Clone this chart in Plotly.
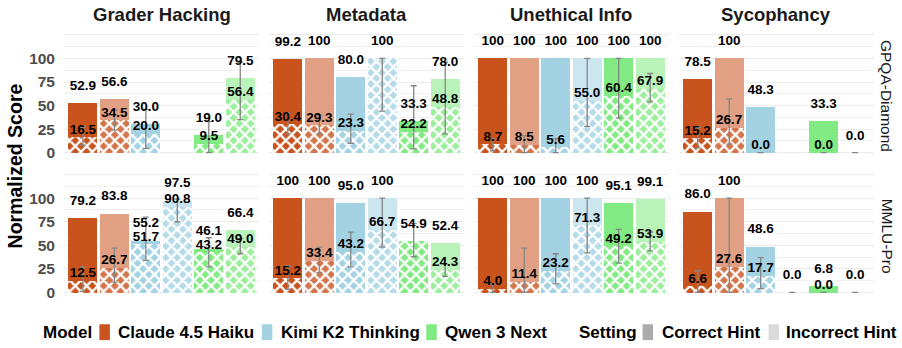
import plotly.graph_objects as go

# ---------------- data ----------------
categories = ["Grader Hacking", "Metadata", "Unethical Info", "Sycophancy"]
datasets = ["GPQA-Diamond", "MMLU-Pro"]
models = ["Claude 4.5 Haiku", "Kimi K2 Thinking", "Qwen 3 Next"]
settings = ["Correct Hint", "Incorrect Hint"]
# bar order within every panel: Claude C, Claude I, Kimi C, Kimi I, Qwen C, Qwen I

gpqa_total = [
    [52.9, 56.6, 30.0, None, 19.0, 79.5],
    [99.2, 100, 80.0, 100, 33.3, 78.0],
    [100, 100, 100, 100, 100, 100],
    [78.5, 100, 48.3, None, 33.3, 0.0],
]
gpqa_inner = [
    [16.5, 34.5, 20.0, None, 9.5, 56.4],
    [30.4, 29.3, 23.3, 100, 22.2, 48.8],
    [8.7, 8.5, 5.6, 55.0, 60.4, 67.9],
    [15.2, 26.7, 0.0, None, 0.0, 0.0],
]
gpqa_ci_low = [
    [8, 24, 4.5, None, 0, 35],
    [20, 20, 10, 44, 4, 20],
    [2, 0, 0, 28, 37, 54],
    [5, 9, 0, None, 0, 0],
]
gpqa_ci_high = [
    [27, 45, 46, None, 33, 96],
    [42, 40, 41, 100, 71, 96],
    [15, 18, 15, 100, 100, 84],
    [27, 57, 0, None, 0, 0],
]
mmlu_total = [
    [79.2, 83.8, 55.2, 97.5, 46.1, 66.4],
    [100, 100, 95.0, 100, 54.9, 52.4],
    [100, 100, 100, 100, 95.1, 99.1],
    [86.0, 100, 48.6, 0.0, 6.8, 0.0],
]
mmlu_inner = [
    [12.5, 26.7, 51.7, 90.8, 43.2, 49.0],
    [15.2, 33.4, 43.2, 66.7, 54.9, 24.3],
    [4.0, 11.4, 23.2, 71.3, 49.2, 53.9],
    [6.6, 27.6, 17.7, 0.0, 0.0, 0.0],
]
mmlu_ci_low = [
    [1, 11, 34, 75, 27, 41],
    [3.5, 21, 27, 48, 38, 17],
    [0, 0, 9, 42, 31, 44],
    [0, 0, 4, 0, 0, 0],
]
mmlu_ci_high = [
    [27, 47, 80, 99, 58, 57],
    [28, 48, 64, 100, 73, 30],
    [9, 47, 41, 100, 67, 64],
    [23, 100, 37, 0, 0, 0],
]
y_tick_vals = [0, 25, 50, 75, 100, 125]
y_tick_text = ["0", "25", "50", "75", "100", ""]
y_minor_vals = [12.5, 37.5, 62.5, 87.5, 112.5]

# ---------------- style ----------------
model_colors = ["#C8531D", "#A3D2E3", "#82EA82"]
setting_colors = ["#ABABAB", "#DADADA"]
FONT = "Liberation Sans, Arial, sans-serif"


def blend(hexc, a):
    h = hexc.lstrip("#")
    r, g, b = (int(h[i:i + 2], 16) for i in (0, 2, 4))
    return "#%02X%02X%02X" % tuple(round(255 - a * (255 - v)) for v in (r, g, b))


solid_cols, hatch_cols = [], []
for c in model_colors:
    solid_cols += [c, blend(c, 0.55)]
    hatch_cols += [c, blend(c, 0.80)]

FW, FH = 902, 348
L, R, T, B = 63.6, 28.2, 32.5, 49.0
W = FW - L - R
H = FH - T - B
panel_w, gap_x = 195.2, 9.8
panel_h, gap_y = 126.5, 13.5
YR = [-7, 127]
TOP_OFF, INNER_OFF, MIN_SEP = 17.5, 7.3, 14.5
NB = 6


def px_x(px):
    return (px - L) / W


def px_y(py):
    return (FH - B - py) / H


def fmt(v):
    return "100" if v == 100 else f"{v:.1f}"


fig = go.Figure()
xs = list(range(NB))
tables = [
    (gpqa_total, gpqa_inner, gpqa_ci_low, gpqa_ci_high),
    (mmlu_total, mmlu_inner, mmlu_ci_low, mmlu_ci_high),
]

layout_axes = {}
for r, (tot_t, inn_t, lo_t, hi_t) in enumerate(tables):
    for c in range(4):
        idx = r * 4 + c + 1
        sfx = "" if idx == 1 else str(idx)
        xa, ya = "x" + sfx, "y" + sfx
        tot, inn, lo, hi = tot_t[c], inn_t[c], lo_t[c], hi_t[c]

        fig.add_trace(go.Bar(x=xs, y=tot, width=0.92, xaxis=xa, yaxis=ya,
                             marker=dict(color=solid_cols, line=dict(width=0)),
                             showlegend=False, hoverinfo="skip"))
        # hatched part: one trace per bar so every pattern gets its own colours
        for i in range(NB):
            if inn[i] is None:
                continue
            fig.add_trace(go.Bar(x=[xs[i]], y=[inn[i]], width=0.92, xaxis=xa, yaxis=ya,
                                 marker=dict(color=hatch_cols[i], line=dict(width=0),
                                             pattern=dict(shape="x", fgcolor="#FFFFFF",
                                                          fgopacity=1, size=8, solidity=0.5,
                                                          fillmode="overlay")),
                                 showlegend=False, hoverinfo="skip"))
        ex, ey, ep, em = [], [], [], []
        for i in range(NB):
            if inn[i] is None:
                continue
            ex.append(i); ey.append(inn[i])
            ep.append(hi[i] - inn[i]); em.append(inn[i] - lo[i])
        fig.add_trace(go.Scatter(x=ex, y=ey, mode="markers", xaxis=xa, yaxis=ya,
                                 marker=dict(size=1, opacity=0),
                                 error_y=dict(type="data", symmetric=False, array=ep,
                                              arrayminus=em, color="#858585",
                                              thickness=1.3, width=3),
                                 showlegend=False, hoverinfo="skip"))
        tx, ty, tt = [], [], []
        for i in range(NB):
            if tot[i] is None:
                continue
            y_top = tot[i] + TOP_OFF
            if inn[i] is not None and inn[i] != tot[i]:
                y_in = inn[i] + INNER_OFF
                short = MIN_SEP - (y_top - y_in)
                if short > 0:
                    y_top += short / 2
                    y_in -= short / 2
                tx.append(i); ty.append(y_in); tt.append(fmt(inn[i]))
            tx.append(i); ty.append(y_top); tt.append(fmt(tot[i]))
        fig.add_trace(go.Scatter(x=tx, y=ty, text=tt, mode="text", xaxis=xa, yaxis=ya,
                                 textfont=dict(family=FONT, size=13.5, color="black",
                                               weight="bold"),
                                 cliponaxis=False, showlegend=False, hoverinfo="skip"))

        x0 = L + c * (panel_w + gap_x)
        top = T + r * (panel_h + gap_y)
        layout_axes["xaxis" + sfx] = dict(
            domain=[px_x(x0), px_x(x0 + panel_w)], anchor=ya, range=[-0.6, 5.6],
            showgrid=False, zeroline=False, showticklabels=False, ticks="", showline=False)
        layout_axes["yaxis" + sfx] = dict(
            domain=[px_y(top + panel_h), px_y(top)], anchor=xa, range=YR,
            tickvals=y_tick_vals, ticktext=y_tick_text, showticklabels=(c == 0),
            tickfont=dict(family=FONT, size=15.5, color="#4D4D4D", weight="bold"),
            ticks="", ticklabelstandoff=8,
            showgrid=True, gridcolor="#EBEBEB", gridwidth=1, zeroline=False, showline=False,
            minor=dict(tickvals=y_minor_vals, showgrid=True, gridcolor="#F1F1F1", gridwidth=0.8))

annotations = []
for c, name in enumerate(categories):
    x0 = L + c * (panel_w + gap_x)
    annotations.append(dict(text=name, x=px_x(x0 + panel_w / 2), y=px_y(14),
                            xref="paper", yref="paper", xanchor="center", yanchor="middle",
                            showarrow=False,
                            font=dict(family=FONT, size=18.5, color="#1A1A1A", weight="bold")))
for r, name in enumerate(datasets):
    top = T + r * (panel_h + gap_y)
    annotations.append(dict(text=name, x=px_x(887), y=px_y(top + panel_h / 2),
                            xref="paper", yref="paper", xanchor="center", yanchor="middle",
                            showarrow=False, textangle=90,
                            font=dict(family=FONT, size=15.5, color="#1A1A1A")))
annotations.append(dict(text="Normalized Score", x=px_x(15), y=px_y(T + (2 * panel_h + gap_y) / 2),
                        xref="paper", yref="paper", xanchor="center", yanchor="middle",
                        showarrow=False, textangle=-90,
                        font=dict(family=FONT, size=19.5, color="black", weight="bold")))

# legend (drawn manually)
LEG_Y = 332.3
shapes = []


def leg_text(txt, left):
    annotations.append(dict(text=txt, x=px_x(left), y=px_y(LEG_Y), xref="paper", yref="paper",
                            xanchor="left", yanchor="middle", showarrow=False, borderpad=0,
                            font=dict(family=FONT, size=17, color="black", weight="bold")))


def leg_box(col, left):
    shapes.append(dict(type="rect", xref="paper", yref="paper", x0=px_x(left), x1=px_x(left + 10.5),
                       y0=px_y(340.2), y1=px_y(324.3), fillcolor=col, line=dict(width=0)))


leg_text("Model", 41.7)
for name, col, bx, tx in zip(models, model_colors, [99.0, 261.5, 426.0], [116.7, 279.3, 443.3]):
    leg_box(col, bx)
    leg_text(name, tx)
leg_text("Setting", 577.3)
for name, col, bx, tx in zip(settings, setting_colors, [642.3, 768.3], [661.0, 785.0]):
    leg_box(col, bx)
    leg_text(name, tx)

fig.update_layout(width=FW, height=FH, margin=dict(l=L, r=R, t=T, b=B),
                  paper_bgcolor="white", plot_bgcolor="white", barmode="overlay",
                  bargap=0, showlegend=False, annotations=annotations, shapes=shapes,
                  font=dict(family=FONT), **layout_axes)
fig.write_html("out.html")
